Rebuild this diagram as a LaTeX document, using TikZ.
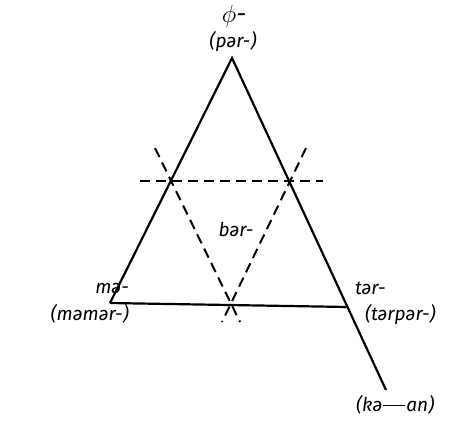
\documentclass[tikz,border=0pt]{standalone}
\usepackage{fontspec}
\setmainfont{Fira Sans}
\begin{document}
\begin{tikzpicture}[x=1pt,y=-1pt,
  solidline/.style={line width=2.2pt},
  dashline/.style={line width=2pt, dash pattern=on 10pt off 6pt},
  lbl/.style={inner sep=0pt, font=\fontsize{19}{22}\selectfont\itshape}]
\useasboundingbox (0,0) rectangle (449,424);
\coordinate (A) at (232,58);
\coordinate (L) at (110,303);
\coordinate (R) at (348,307);
\coordinate (E) at (386,390);
\coordinate (H1) at (140,181);
\coordinate (H2) at (323,181);
\coordinate (D1s) at (155,148);
\coordinate (D1e) at (240,322);
\coordinate (D2s) at (306,148);
\coordinate (D2e) at (222,322);
\draw[solidline] (L) -- (A) -- (E);
\draw[solidline] (L) -- (R);
\draw[dashline] (H1) -- (H2);
\draw[dashline] (D1s) -- (D1e);
\draw[dashline] (D2s) -- (D2e);
\node[lbl] (phi) at (234,16) {\fontsize{25}{28}\selectfont$\phi$-};
\node[lbl] (par) at (233,42) {(pər-)};
\node[lbl] (bar) at (236,229) {bər-};
\node[lbl, anchor=east] (ma) at (129,288) {mə-};
\node[lbl, anchor=east] (mamar) at (129,314) {(məmər-)};
\node[lbl, anchor=west] (tar) at (355,288) {tər-};
\node[lbl, anchor=west] (tarpar) at (365,314) {(tərpər-)};
\node[lbl, anchor=west] (kaan) at (356,405) {(kə\kern1pt\rule[5.5pt]{22pt}{1.3pt}\kern1pt an)};
\end{tikzpicture}
\end{document}
